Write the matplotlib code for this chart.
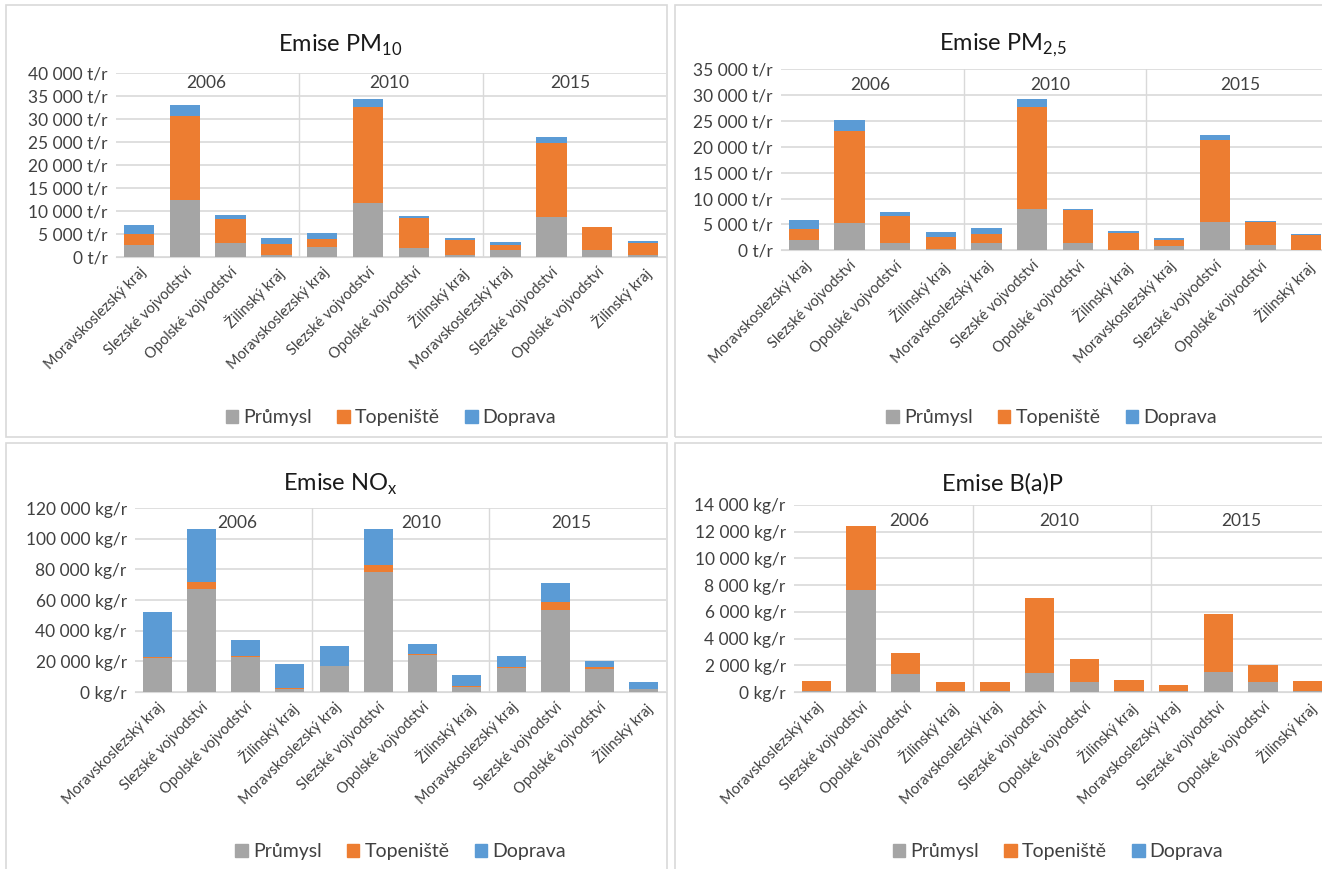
import matplotlib
matplotlib.use("Agg")
import matplotlib.pyplot as plt
from matplotlib.patches import Rectangle, Patch
from matplotlib.ticker import FuncFormatter

plt.rcParams['font.family'] = ['Lato', 'DejaVu Sans']

W, H = 1322, 869

regions = ["Moravskoslezský kraj", "Slezské vojvodství", "Opolské vojvodství", "Žilinský kraj"]
years = ["2006", "2010", "2015"]
categories = regions * 3
sources = ["Průmysl", "Topeniště", "Doprava"]

# PM10 [t/r]
pm10_prumysl = [2500, 12300, 3000, 400, 2200, 11700, 2000, 400, 1400, 8700, 1400, 400]
pm10_topeniste = [2400, 18300, 5300, 2300, 1700, 20900, 6400, 3200, 1100, 16100, 5000, 2650]
pm10_doprava = [2100, 2400, 700, 1300, 1200, 1700, 450, 400, 650, 1150, 150, 400]

# PM2,5 [t/r]
pm25_prumysl = [2000, 5200, 1500, 250, 1500, 7900, 1500, 100, 900, 5400, 1000, 100]
pm25_topeniste = [2100, 17900, 5200, 2250, 1650, 19850, 6200, 3200, 1100, 15900, 4500, 2900]
pm25_doprava = [1750, 2100, 650, 1000, 1100, 1500, 200, 400, 450, 1000, 100, 200]

# NOx [kg/r]
nox_prumysl = [22300, 67300, 22800, 2200, 16700, 78500, 23900, 3200, 15800, 53800, 15200, 1700]
nox_topeniste = [500, 4300, 700, 400, 400, 4600, 1000, 700, 400, 4800, 1100, 400]
nox_doprava = [29300, 34700, 10100, 15400, 12800, 23200, 6500, 7000, 7000, 12400, 3700, 4300]

# B(a)P [kg/r]
bap_prumysl = [100, 7650, 1350, 50, 100, 1400, 750, 50, 50, 1500, 750, 50]
bap_topeniste = [750, 4750, 1550, 670, 650, 5650, 1700, 870, 450, 4350, 1300, 770]
bap_doprava = [5, 5, 5, 5, 5, 5, 5, 5, 5, 5, 5, 5]

colors = ["#A5A5A5", "#ED7D31", "#5B9BD5"]
grid_c = "#D9D9D9"
text_c = "#404040"


def px_axes(fig, left, top, right, bottom):
    return fig.add_axes([left / W, 1 - bottom / H, (right - left) / W, (bottom - top) / H])


def frame(fig, left, top, right, bottom):
    fig.patches.append(Rectangle((left / W, 1 - bottom / H), (right - left) / W, (bottom - top) / H,
                                 transform=fig.transFigure, fill=False, ec="#D9D9D9", lw=1.2))


def panel(fig, box, title, cx, ty, legend_y, series, ymax, ystep, unit, year_pos):
    ax = px_axes(fig, *box)
    x = range(len(categories))
    bottom = [0] * len(categories)
    for vals, c in zip(series, colors):
        ax.bar(x, vals, bottom=bottom, width=0.66, color=c, zorder=3)
        bottom = [b + v for b, v in zip(bottom, vals)]
    ax.set_xlim(-0.5, len(categories) - 0.5)
    ax.set_ylim(0, ymax)
    ax.set_yticks(range(0, ymax + 1, ystep))
    ax.yaxis.set_major_formatter(FuncFormatter(lambda v, p: f"{int(v):,}".replace(",", " ") + " " + unit))
    ax.grid(axis="y", color=grid_c, lw=1.2, zorder=0)
    for s in ["top", "right", "left"]:
        ax.spines[s].set_visible(False)
    ax.spines["bottom"].set_color(grid_c)
    ax.tick_params(axis="y", length=0, labelsize=12.5, labelcolor=text_c, pad=6)
    ax.tick_params(axis="x", length=0, pad=6)
    ax.set_xticks(list(x))
    ax.set_xticklabels(categories, rotation=45, ha="right", rotation_mode="anchor",
                       fontsize=10.5, color=text_c)
    # year group separators
    for sep in [3.5, 7.5]:
        ax.axvline(sep, color=grid_c, lw=1, zorder=1)
    for yr, (xp, yp) in zip(years, year_pos):
        ax.text(xp, yp, yr, ha="center", va="center", fontsize=12.5, color=text_c, zorder=4)
    fig.text(cx / W, 1 - ty / H, title, ha="center", va="center", fontsize=17, color="#1a1a1a")
    handles = [Patch(color=c, label=s) for c, s in zip(colors, sources)]
    fig.legend(handles=handles, loc="center", bbox_to_anchor=(0.5 * (box[0] + min(box[2], W)) / W,
                                                               1 - legend_y / H),
               ncol=3, frameon=False, fontsize=14, handlelength=0.65, handleheight=0.65,
               handletextpad=0.25, columnspacing=1.3, labelcolor=text_c)
    return ax


fig = plt.figure(figsize=(W / 100, H / 100), dpi=100)

frame(fig, 6, 5, 667, 437)
frame(fig, 675, 5, 1335, 437)
frame(fig, 6, 443, 667, 880)
frame(fig, 675, 443, 1335, 880)

panel(fig, (116, 72.7, 666, 256.7), "Emise PM$_\\mathregular{10}$", 340, 45, 418,
      [pm10_prumysl, pm10_topeniste, pm10_doprava], 40000, 5000, "t/r",
      [(1.47, 37700), (5.46, 37700), (9.41, 37700)])
panel(fig, (781, 69.3, 1329, 250.3), "Emise PM$_\\mathregular{2{,}5}$", 1003, 45, 418,
      [pm25_prumysl, pm25_topeniste, pm25_doprava], 35000, 5000, "t/r",
      [(1.45, 32000), (5.4, 32000), (9.56, 32000)])
panel(fig, (135, 508, 666, 692), "Emise NO$_\\mathregular{x}$", 340, 484, 852,
      [nox_prumysl, nox_topeniste, nox_doprava], 120000, 20000, "kg/r",
      [(1.8, 110000), (5.96, 110000), (9.36, 110000)])
panel(fig, (794, 505, 1330, 692), "Emise B(a)P", 1003, 484, 852,
      [bap_prumysl, bap_topeniste, bap_doprava], 14000, 2000, "kg/r",
      [(2.08, 12800), (5.43, 12800), (9.52, 12800)])

fig.savefig("out.png", dpi=100)
